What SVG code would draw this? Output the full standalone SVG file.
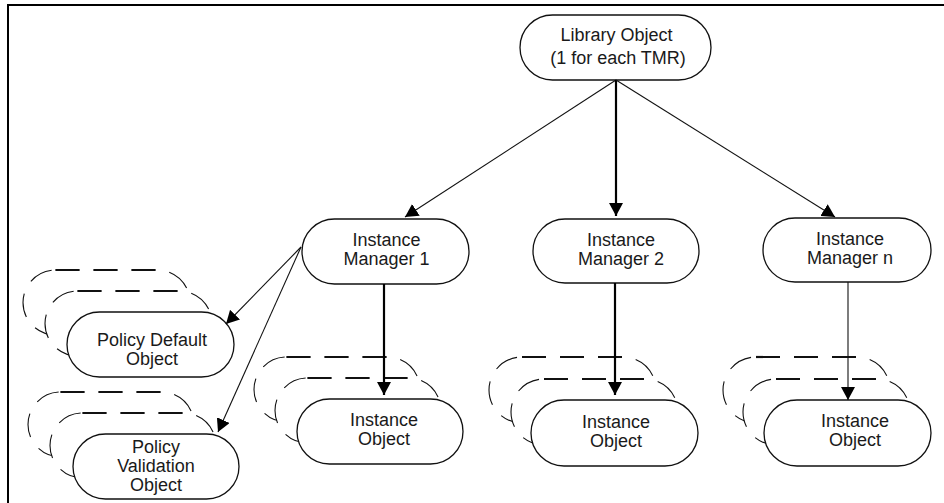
<svg xmlns="http://www.w3.org/2000/svg" width="944" height="503" viewBox="0 0 944 503">
  <defs>
    <style>
      .frame { stroke: #000; stroke-width: 2; fill: none; }
      .node { fill: #fff; stroke: #111; stroke-width: 1.3; }
      .shadow { fill: #fff; stroke: #111; stroke-width: 1.1; stroke-dasharray: 24 14; }
      .shadow-top { stroke: #111; stroke-width: 2.2; stroke-dasharray: 24 14; fill: none; }
      .label { font-family: "Liberation Sans", Arial, sans-serif; font-size: 18px; fill: #1a1a1a; text-anchor: middle; }
      .thin { stroke: #111; stroke-width: 1.1; fill: none; marker-end: url(#head); }
      .thick { stroke: #000; stroke-width: 2.2; fill: none; marker-end: url(#head); }
    </style>
    <marker id="head" markerUnits="userSpaceOnUse" markerWidth="14" markerHeight="14" refX="13" refY="7" orient="auto">
      <path d="M0,0 L13,7 L0,14 Z" fill="#000"/>
    </marker>
  </defs>

  <!-- page frame -->
  <path class="frame" d="M8,503 V5 H944"/>

  <g id="library-object">
    <rect class="node" x="520" y="15" width="191" height="65" rx="32.5"/>
    <text class="label" x="616.5" y="41">Library Object</text>
    <text class="label" x="618" y="64">(1 for each TMR)</text>
  </g>

  <g id="instance-manager-1">
    <rect class="node" x="302" y="219" width="167" height="65" rx="32.5"/>
    <text class="label" x="386.5" y="246">Instance</text>
    <text class="label" x="386.5" y="265">Manager 1</text>
  </g>

  <g id="instance-manager-2">
    <rect class="node" x="533" y="219" width="166" height="64" rx="32"/>
    <text class="label" x="621" y="246">Instance</text>
    <text class="label" x="621" y="265">Manager 2</text>
  </g>

  <g id="instance-manager-n">
    <rect class="node" x="763" y="218" width="168" height="64" rx="32"/>
    <text class="label" x="850" y="245">Instance</text>
    <text class="label" x="850" y="264">Manager n</text>
  </g>

  <g id="policy-default-object">
    <rect class="shadow" x="23" y="270" width="167" height="65" rx="32.5"/>
    <line class="shadow-top" x1="55.5" y1="270" x2="157.5" y2="270"/>
    <rect class="shadow" x="45" y="291" width="167" height="65" rx="32.5"/>
    <line class="shadow-top" x1="77.5" y1="291" x2="179.5" y2="291"/>
    <rect class="node" x="67" y="312" width="167" height="65" rx="32.5"/>
    <text class="label" x="152" y="346">Policy Default</text>
    <text class="label" x="152" y="365">Object</text>
  </g>

  <g id="policy-validation-object">
    <rect class="shadow" x="28" y="392" width="166" height="65" rx="32.5"/>
    <line class="shadow-top" x1="60.5" y1="392" x2="161.5" y2="392"/>
    <rect class="shadow" x="50" y="413" width="166" height="65" rx="32.5"/>
    <line class="shadow-top" x1="82.5" y1="413" x2="183.5" y2="413"/>
    <rect class="node" x="73" y="434" width="166" height="65" rx="32.5"/>
    <text class="label" x="156" y="453">Policy</text>
    <text class="label" x="156" y="472">Validation</text>
    <text class="label" x="156" y="491">Object</text>
  </g>

  <g id="instance-object-1">
    <rect class="shadow" x="254" y="357" width="166" height="65" rx="32.5"/>
    <line class="shadow-top" x1="286.5" y1="357" x2="387.5" y2="357"/>
    <rect class="shadow" x="275" y="378" width="166" height="65" rx="32.5"/>
    <line class="shadow-top" x1="307.5" y1="378" x2="408.5" y2="378"/>
    <rect class="node" x="297" y="399" width="166" height="65" rx="32.5"/>
    <text class="label" x="384" y="426">Instance</text>
    <text class="label" x="384" y="445">Object</text>
  </g>

  <g id="instance-object-2">
    <rect class="shadow" x="489" y="357" width="167" height="66" rx="33"/>
    <line class="shadow-top" x1="522" y1="357" x2="623" y2="357"/>
    <rect class="shadow" x="511" y="379" width="167" height="66" rx="33"/>
    <line class="shadow-top" x1="544" y1="379" x2="645" y2="379"/>
    <rect class="node" x="531" y="400" width="167" height="66" rx="33"/>
    <text class="label" x="616" y="428">Instance</text>
    <text class="label" x="616" y="447">Object</text>
  </g>

  <g id="instance-object-n">
    <rect class="shadow" x="723" y="357" width="167" height="66" rx="33"/>
    <line class="shadow-top" x1="756" y1="357" x2="857" y2="357"/>
    <rect class="shadow" x="743" y="379" width="167" height="66" rx="33"/>
    <line class="shadow-top" x1="776" y1="379" x2="877" y2="379"/>
    <rect class="node" x="764" y="400" width="167" height="66" rx="33"/>
    <text class="label" x="855" y="427">Instance</text>
    <text class="label" x="855" y="446">Object</text>
  </g>

  <!-- connectors, drawn over the stacked outlines -->
  <g id="connectors">
    <line class="thin" x1="616" y1="80" x2="405" y2="217"/>
    <line class="thick" x1="616" y1="80" x2="616" y2="216"/>
    <line class="thin" x1="616" y1="80" x2="835" y2="217"/>
    <line class="thin" x1="301" y1="247" x2="226" y2="324"/>
    <line class="thin" x1="301" y1="247" x2="218" y2="432"/>
    <line class="thick" x1="384" y1="284" x2="384" y2="395"/>
    <line class="thick" x1="615" y1="283" x2="615" y2="395"/>
    <line class="thin" x1="848" y1="282" x2="848" y2="400"/>
  </g>
</svg>
